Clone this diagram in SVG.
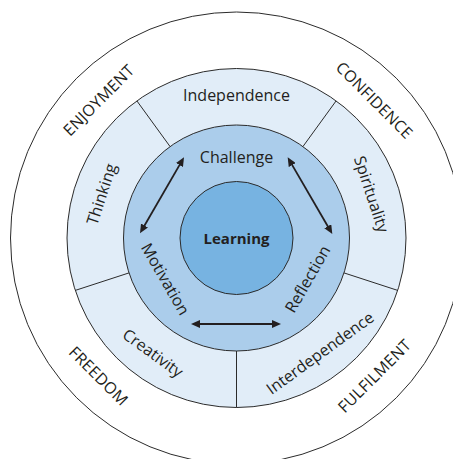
<svg xmlns="http://www.w3.org/2000/svg" width="453" height="459" viewBox="0 0 453 459">
  <style>
    .ring { stroke: #2b2b2b; stroke-width: 1; }
    .divider { stroke: #2b2b2b; stroke-width: 1; fill: none; }
    .lbl { font-family: "Open Sans", "Noto Sans", "Liberation Sans", sans-serif; fill: #231f20; text-anchor: middle; }
    .outer-lbl { font-size: 16px; letter-spacing: 0.2px; }
    .mid-lbl { font-size: 16px; }
    .core-lbl { font-size: 16px; }
    .center-lbl { font-size: 15px; font-weight: bold; }
    .arrow { stroke: #231f20; stroke-width: 1.8; fill: none; marker-start: url(#head); marker-end: url(#head); }
  </style>
  <defs>
    <marker id="head" markerUnits="userSpaceOnUse" viewBox="0 0 9 8" markerWidth="9" markerHeight="8" refX="4" refY="4" orient="auto-start-reverse">
      <path d="M0,0 L9,4 L0,8 Z" fill="#231f20"/>
    </marker>
  </defs>

  <rect width="453" height="459" fill="#ffffff"/>

  <!-- outer value ring -->
  <g id="values-ring">
    <circle class="ring" cx="236.5" cy="238" r="226" fill="none"/>
  </g>

  <!-- five-segment ring -->
  <g id="segment-ring">
    <circle class="ring" cx="236.5" cy="238" r="169.5" fill="#e1edf8"/>
    <line class="divider" x1="302.9" y1="146.6" x2="336.1" y2="100.9"/>
    <line class="divider" x1="170.1" y1="146.6" x2="136.9" y2="100.9"/>
    <line class="divider" x1="344" y1="272.9" x2="397.7" y2="290.4"/>
    <line class="divider" x1="129" y1="272.9" x2="75.3" y2="290.4"/>
    <line class="divider" x1="236.5" y1="351" x2="236.5" y2="407.5"/>
  </g>

  <!-- three-part core ring -->
  <g id="core-ring">
    <circle class="ring" cx="236.5" cy="238" r="113" fill="#abcdeb"/>
  </g>

  <!-- centre -->
  <g id="learning">
    <circle class="ring" cx="236.5" cy="238" r="56.5" fill="#77b3e1"/>
    <text class="lbl center-lbl" x="236.5" y="243.5">Learning</text>
  </g>

  <!-- outer labels -->
  <g id="enjoyment">
    <text class="lbl outer-lbl" transform="translate(98.6,100.1) rotate(-45)" dy="0.36em">ENJOYMENT</text>
  </g>
  <g id="confidence">
    <text class="lbl outer-lbl" transform="translate(374.4,100.1) rotate(45)" dy="0.36em">CONFIDENCE</text>
  </g>
  <g id="freedom">
    <text class="lbl outer-lbl" transform="translate(98.6,375.9) rotate(45)" dy="0.36em">FREEDOM</text>
  </g>
  <g id="fulfilment">
    <text class="lbl outer-lbl" transform="translate(374.4,375.9) rotate(-45)" dy="0.36em">FULFILMENT</text>
  </g>

  <!-- segment labels -->
  <g id="independence">
    <text class="lbl mid-lbl" x="236.5" y="101">Independence</text>
  </g>
  <g id="spirituality">
    <text class="lbl mid-lbl" transform="translate(371.6,194.1) rotate(72)" dy="0.36em">Spirituality</text>
  </g>
  <g id="interdependence">
    <text class="lbl mid-lbl" transform="translate(320,352.9) rotate(-36)" dy="0.36em">Interdependence</text>
  </g>
  <g id="creativity">
    <text class="lbl mid-lbl" transform="translate(153,352.9) rotate(36)" dy="0.36em">Creativity</text>
  </g>
  <g id="thinking">
    <text class="lbl mid-lbl" transform="translate(101.4,194.1) rotate(-72)" dy="0.36em">Thinking</text>
  </g>

  <!-- core labels -->
  <g id="challenge">
    <text class="lbl core-lbl" x="236.5" y="163">Challenge</text>
  </g>
  <g id="reflection">
    <text class="lbl core-lbl" transform="translate(307.5,279) rotate(-60)" dy="0.36em">Reflection</text>
  </g>
  <g id="motivation">
    <text class="lbl core-lbl" transform="translate(165.5,279) rotate(60)" dy="0.36em">Motivation</text>
  </g>

  <!-- two-way links between the core labels -->
  <g id="connectors">
    <line class="arrow" x1="181.5" y1="161.6" x2="142.5" y2="229"/>
    <line class="arrow" x1="290.2" y1="161.6" x2="329.8" y2="229.7"/>
    <line class="arrow" x1="196" y1="324" x2="276" y2="324"/>
  </g>
</svg>
